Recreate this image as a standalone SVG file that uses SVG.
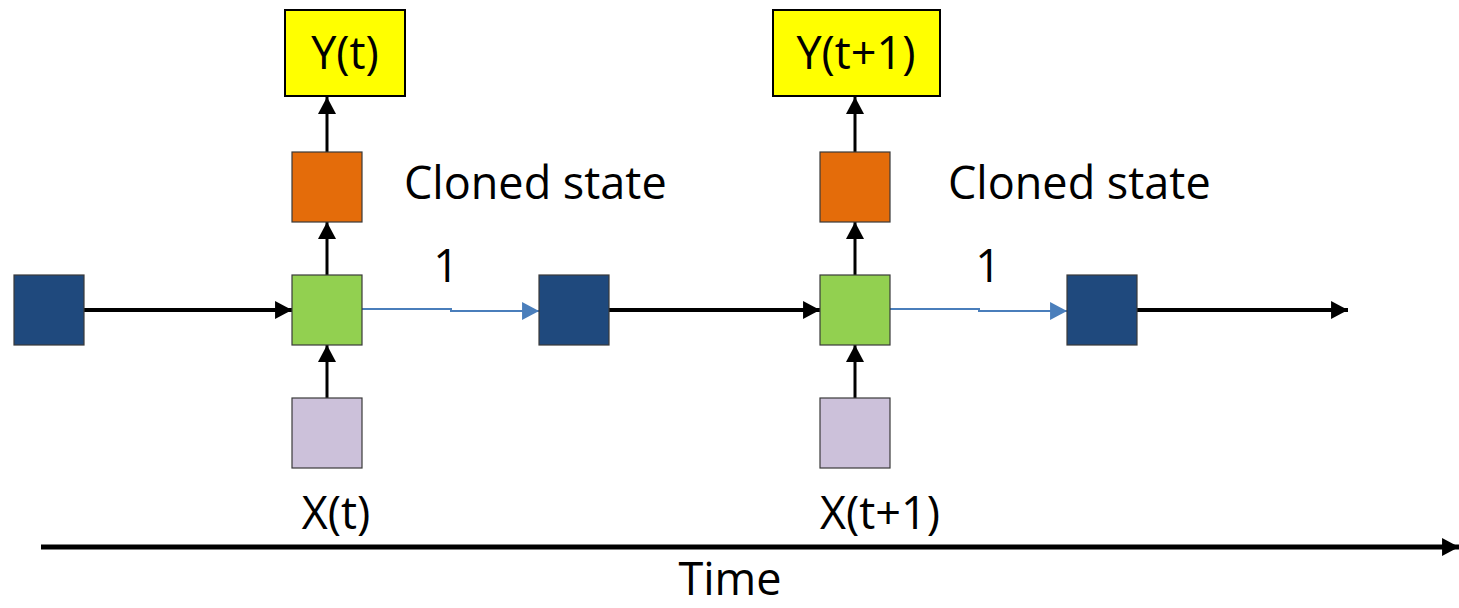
<svg xmlns="http://www.w3.org/2000/svg" width="1459" height="608" viewBox="0 0 1459 608">
<style>
text{font-family:"Open Sans","Noto Sans","Liberation Sans",sans-serif;font-size:45px;fill:#000}
.box{stroke:#3a3a3a;stroke-width:1.2}
.y{fill:#ffff00;stroke:#000;stroke-width:2}
.o{fill:#e46c0a}
.g{fill:#92d050}
.b{fill:#1f497d}
.l{fill:#ccc1da}
.blk{stroke:#000;fill:none}
.blu{stroke:#4a7ebb;stroke-width:2;fill:none}
</style>
<defs>
<marker id="ab" markerUnits="userSpaceOnUse" markerWidth="18" markerHeight="18" viewBox="0 0 16 17" refX="16" refY="8.5" orient="auto"><path d="M0,0L16,8.5L0,17z" fill="#000"/></marker>
<marker id="au" markerUnits="userSpaceOnUse" markerWidth="18" markerHeight="18" viewBox="0 0 16 17" refX="16" refY="8.5" orient="auto"><path d="M0,0L16,8.5L0,17z" fill="#4a7ebb"/></marker>
</defs>
<g id="connectors">
<line class="blk" x1="84" y1="310" x2="292" y2="310" stroke-width="4" marker-end="url(#ab)"/>
<path class="blu" d="M362,309H451V311H539" marker-end="url(#au)"/>
<line class="blk" x1="609" y1="310" x2="820" y2="310" stroke-width="4" marker-end="url(#ab)"/>
<path class="blu" d="M890,309H979V311H1067" marker-end="url(#au)"/>
<line class="blk" x1="1137" y1="310" x2="1348" y2="310" stroke-width="4" marker-end="url(#ab)"/>
<line class="blk" x1="327" y1="398" x2="327" y2="345" stroke-width="3" marker-end="url(#ab)"/>
<line class="blk" x1="327" y1="275" x2="327" y2="222" stroke-width="3" marker-end="url(#ab)"/>
<line class="blk" x1="327" y1="152" x2="327" y2="97" stroke-width="3" marker-end="url(#ab)"/>
<line class="blk" x1="855" y1="398" x2="855" y2="345" stroke-width="3" marker-end="url(#ab)"/>
<line class="blk" x1="855" y1="275" x2="855" y2="222" stroke-width="3" marker-end="url(#ab)"/>
<line class="blk" x1="855" y1="152" x2="855" y2="97" stroke-width="3" marker-end="url(#ab)"/>
<line class="blk" x1="41" y1="547" x2="1459" y2="547" stroke-width="5" marker-end="url(#ab)"/>
</g>
<g id="h0"><rect class="box b" x="14" y="275" width="70" height="70"/></g>
<g id="y1"><rect class="y" x="285" y="10" width="120" height="86"/><text x="345" y="69" text-anchor="middle">Y(t)</text></g>
<g id="s1"><rect class="box o" x="292" y="152" width="70" height="70"/></g>
<g id="c1"><text x="404" y="199">Cloned state</text></g>
<g id="g1"><rect class="box g" x="292" y="275" width="70" height="70"/></g>
<g id="w1"><text x="446" y="282" text-anchor="middle">1</text></g>
<g id="x1"><rect class="box l" x="292" y="398" width="70" height="70"/><text x="336" y="529" text-anchor="middle">X(t)</text></g>
<g id="h1"><rect class="box b" x="539" y="275" width="70" height="70"/></g>
<g id="y2"><rect class="y" x="773" y="10" width="167" height="86"/><text x="856" y="69" text-anchor="middle">Y(t+1)</text></g>
<g id="s2"><rect class="box o" x="820" y="152" width="70" height="70"/></g>
<g id="c2"><text x="948" y="199">Cloned state</text></g>
<g id="g2"><rect class="box g" x="820" y="275" width="70" height="70"/></g>
<g id="w2"><text x="988" y="282" text-anchor="middle">1</text></g>
<g id="x2"><rect class="box l" x="820" y="398" width="70" height="70"/><text x="880" y="529" text-anchor="middle">X(t+1)</text></g>
<g id="h2"><rect class="box b" x="1067" y="275" width="70" height="70"/></g>
<g id="time"><text x="730" y="595" text-anchor="middle">Time</text></g>
</svg>
